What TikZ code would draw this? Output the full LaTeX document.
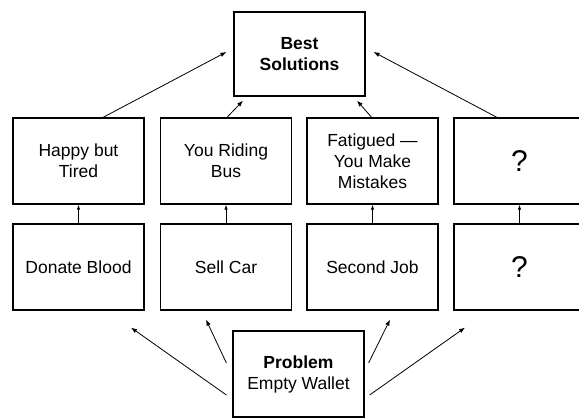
\documentclass[tikz,border=0pt]{standalone}
\usepackage{fontspec}
\setmainfont{Liberation Sans}
\usetikzlibrary{arrows.meta,calc}
\begin{document}
\begin{tikzpicture}[x=1pt,y=-1pt,
  box/.style={draw,line width=1.2pt,minimum width=131pt,minimum height=86pt,inner sep=0pt,align=center,
    font=\fontsize{17.5}{21}\selectfont},
  qbox/.style={box,font=\fontsize{30}{30}\selectfont},
  arr/.style={line width=0.8pt,-{Latex[length=6pt,width=4.5pt]}},
  sarr/.style={line width=0.8pt,-{Latex[length=5pt,width=3.5pt]}}]
\path[use as bounding box,clip] (0,0) rectangle (579,418);
\node[box,minimum height=84pt] (best) at (299.5,54) {\bfseries Best\\\bfseries Solutions};
\node[box] (t1) at (78.5,161) {Happy but\\Tired};
\node[box] (t2) at (226,161) {You Riding\\Bus};
\node[box] (t3) at (372.5,161) {Fatigued ---\\You Make\\Mistakes};
\node[qbox] (t4) at (519.5,161) {?};
\node[box] (b1) at (78.5,267) {Donate Blood};
\node[box] (b2) at (226,267) {Sell Car};
\node[box] (b3) at (372.5,267) {Second Job};
\node[qbox] (b4) at (519.5,267) {?};
\node[box] (p) at (298.5,374) {\bfseries Problem\\Empty Wallet};
% row to row
\foreach \i in {1,2,3,4} \draw[sarr] (b\i.north) -- (t\i.south);
% to best
\draw[arr] ([xshift=24.5pt]t1.north) -- ([shift={(-7,-2)}]best.west);
\draw[arr] ([yshift=-1pt]t2.north) -- ([shift={(-56.5,4)}]best.south);
\draw[arr] ([yshift=-1pt]t3.north) -- ([shift={(57.5,4)}]best.south);
\draw[arr] ([xshift=-22.5pt]t4.north) -- ([shift={(8,-2)}]best.east);
% from problem
\coordinate (pl1) at ([shift={(-6,21)}]p.west);
\coordinate (pl2) at ([shift={(-6,-11)}]p.west);
\coordinate (pr1) at ([shift={(4,-11)}]p.east);
\coordinate (pr2) at ([shift={(5,21)}]p.east);
\draw[arr] (pl1) -- ([shift={(52.5,17)}]b1.south);
\draw[arr] (pl2) -- ([shift={(-20,9)}]b2.south);
\draw[arr] (pr1) -- ([shift={(17.5,9)}]b3.south);
\draw[arr] (pr2) -- ([shift={(-54.5,17)}]b4.south);
\end{tikzpicture}
\end{document}
